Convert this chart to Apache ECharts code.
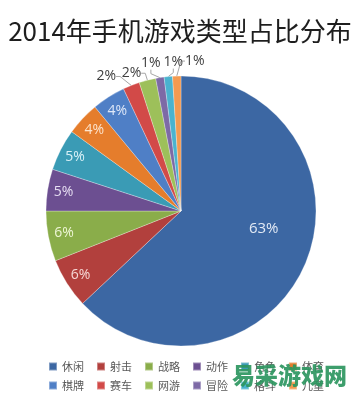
<!DOCTYPE html>
<html><head><meta charset="utf-8">
<script src="https://cdn.jsdelivr.net/npm/echarts@6/dist/echarts.min.js"></script>
<style>html,body{margin:0;padding:0;background:#fff}#c{width:360px;height:400px}</style>
</head><body><div id="c"></div>
<script>
const titleText = '2014年手机游戏类型占比分布';
const watermarkText = '易采游戏网';
const categories = ['休闲','射击','战略','动作','角色','体育','棋牌','赛车','网游','冒险','格斗','儿童'];
const values = [63, 6, 6, 5, 5, 4, 4, 2, 2, 1, 1, 1];
const colors = ['#3c67a3','#b2403d','#8aad4a','#6c4f91','#3a9bb5','#e57d2c','#4f7fc6','#d24a48','#9dc05a','#7d6aa6','#4ab3cf','#f39a50'];
const innerLabelColors = ['#e3eaf5','#f6d8d6','#eef6d6','#e6def2','#d9f1f7','#fde4cd','#dfe8f8'];
// label shifts (styling) for the small outside labels
const outsideShift = {7:[-25,-9], 8:[-16,-7], 9:[-9,-15], 10:[5,-15], 11:[18,-15]};

const CX = 181, CY = 211, R = 135;
const labelFont = 'Open Sans';
const fmt = p => p.value + '%';

const mainData = categories.map((n, i) => {
  const d = { name: n, value: values[i], itemStyle: { color: colors[i] } };
  if (i === 0) {
    d.label = { show: true, position: 'inside', offset: [18, -10], color: innerLabelColors[0], fontSize: 15 };
    d.labelLine = { show: false };
  } else if (i >= 7) {
    d.label = { show: true, position: 'outside' };
    d.labelLine = { show: true };
  } else {
    d.label = { show: false };
    d.labelLine = { show: false };
  }
  return d;
});

const overlayData = categories.map((n, i) => ({
  name: n, value: values[i],
  label: (i >= 1 && i <= 6) ? { show: true, position: 'inside', color: innerLabelColors[i], fontSize: 14 } : { show: false }
}));

const legendItems = categories.map((n, i) => ({ name: n, itemStyle: { color: colors[i] } }));
const legendCommon = {
  left: 43, orient: 'horizontal', icon: 'rect', itemWidth: 8, itemHeight: 8, itemGap: 12,
  selectedMode: false,
  textStyle: { fontSize: 11, color: '#595959', fontFamily: 'Noto Sans CJK SC' }
};

const chart = echarts.init(document.getElementById('c'));
chart.setOption({
  animation: false,
  backgroundColor: '#fff',
  title: {
    text: titleText, left: 'center', top: 13,
    textStyle: { fontSize: 26, fontWeight: 'normal', color: '#1e1e1e', fontFamily: 'Noto Sans CJK SC' }
  },
  legend: [
    Object.assign({}, legendCommon, { top: 356, data: legendItems.slice(0, 6) }),
    Object.assign({}, legendCommon, { top: 375, data: legendItems.slice(6) })
  ],
  graphic: [{
    type: 'text', left: 232, top: 364, z: 100,
    style: { text: watermarkText, fontSize: 23, fontWeight: 900, fill: '#2c9660', fontFamily: 'Noto Sans CJK SC', opacity: 0.92 }
  }],
  series: [
    {
      type: 'pie', center: [CX, CY], radius: [0, R], startAngle: 90, clockwise: true,
      avoidLabelOverlap: false, silent: true,
      itemStyle: { borderColor: 'rgba(255,255,255,0.35)', borderWidth: 0.8 },
      label: { formatter: fmt, fontFamily: labelFont, fontSize: 14, color: '#404040' },
      labelLine: { length: 6, length2: 4, lineStyle: { color: '#a6a6a6', width: 1 } },
      emphasis: { disabled: true },
      labelLayout: function (p) {
        const o = outsideShift[p.dataIndex];
        if (!o || !p.labelLinePoints) return {};
        const a = p.labelLinePoints[0];
        return { x: a[0] + o[0], y: a[1] + o[1], align: 'center', verticalAlign: 'middle' };
      },
      data: mainData
    },
    {
      type: 'pie', center: [CX, CY], radius: [0, 232], startAngle: 90, clockwise: true,
      avoidLabelOverlap: false, silent: true, z: 3,
      itemStyle: { color: 'rgba(0,0,0,0)', borderWidth: 0 },
      label: { formatter: fmt, fontFamily: labelFont, fontSize: 14 },
      labelLine: { show: false },
      emphasis: { disabled: true },
      data: overlayData
    }
  ]
});
</script></body></html>
